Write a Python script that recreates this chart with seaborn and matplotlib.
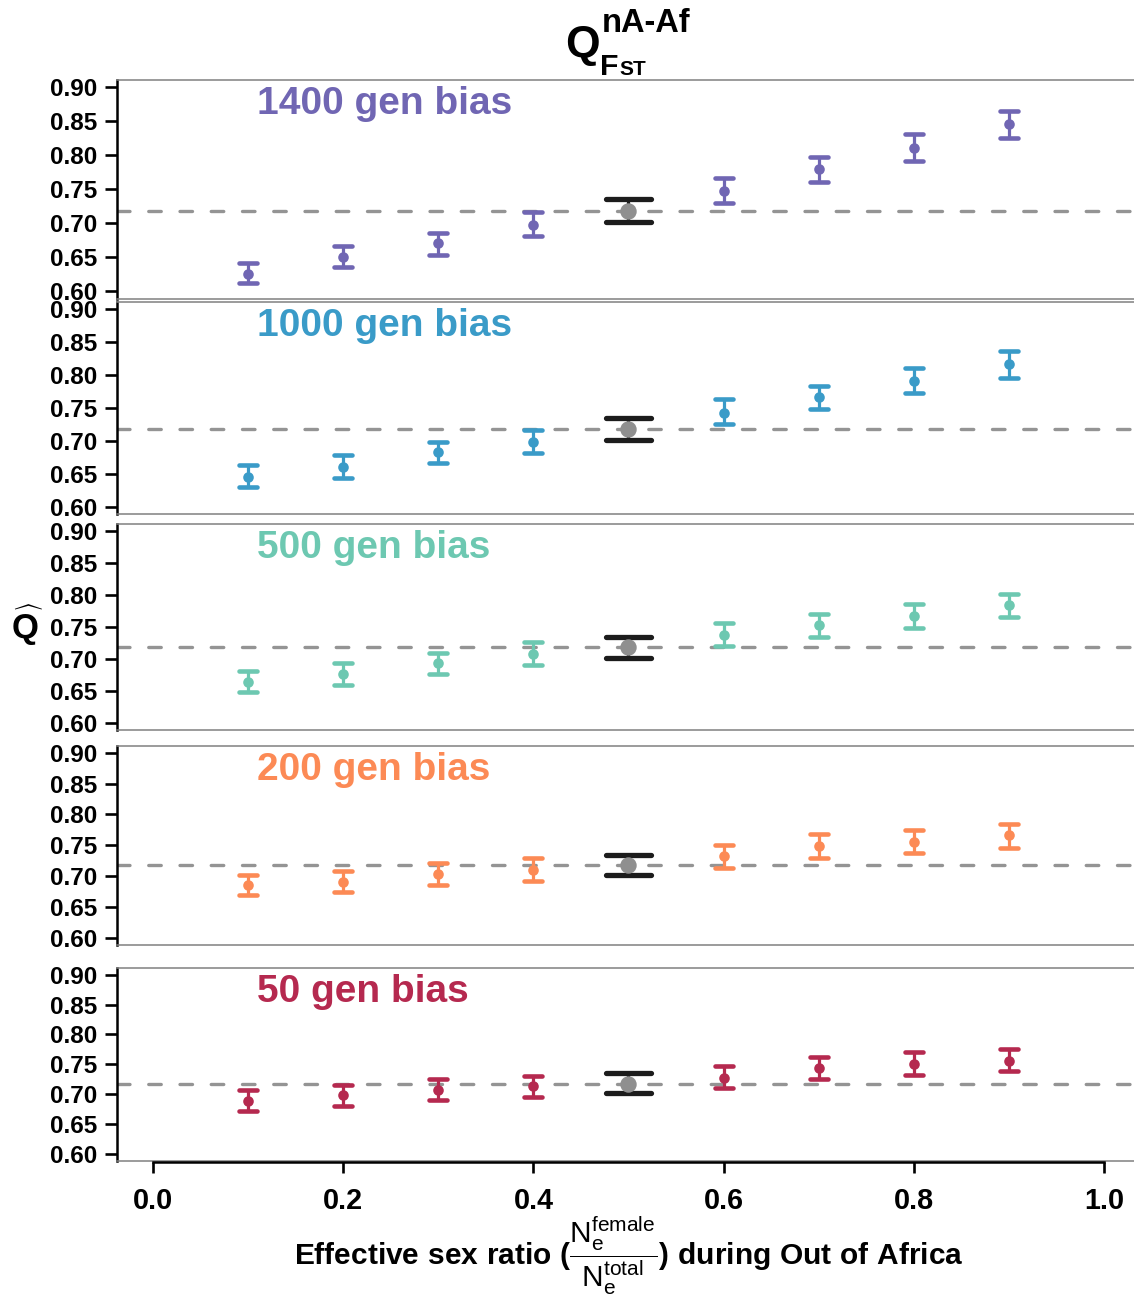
import numpy as np
import pandas as pd
import matplotlib
matplotlib.use("Agg")
import matplotlib.pyplot as plt
import seaborn as sns

# ---- data -------------------------------------------------------------
sex_ratio = [0.1, 0.2, 0.3, 0.4, 0.6, 0.7, 0.8, 0.9]
panel_labels = ["1400 gen bias", "1000 gen bias", "500 gen bias", "200 gen bias", "50 gen bias"]
panel_colors = ["#7066b3", "#3a9bc8", "#6dc8b1", "#fc8a55", "#b5294f"]

q_1400 = [0.626, 0.651, 0.671, 0.698, 0.747, 0.779, 0.810, 0.846]
lo_1400 = [0.612, 0.635, 0.653, 0.681, 0.729, 0.760, 0.791, 0.825]
hi_1400 = [0.642, 0.667, 0.686, 0.716, 0.766, 0.798, 0.831, 0.865]

q_1000 = [0.645, 0.660, 0.683, 0.699, 0.742, 0.767, 0.791, 0.817]
lo_1000 = [0.630, 0.644, 0.667, 0.682, 0.725, 0.749, 0.773, 0.796]
hi_1000 = [0.663, 0.678, 0.699, 0.717, 0.764, 0.784, 0.811, 0.836]

q_500 = [0.664, 0.677, 0.694, 0.708, 0.738, 0.753, 0.767, 0.784]
lo_500 = [0.648, 0.660, 0.676, 0.691, 0.720, 0.734, 0.749, 0.765]
hi_500 = [0.681, 0.694, 0.710, 0.726, 0.756, 0.771, 0.786, 0.801]

q_200 = [0.685, 0.690, 0.703, 0.710, 0.732, 0.749, 0.756, 0.766]
lo_200 = [0.669, 0.674, 0.686, 0.692, 0.714, 0.730, 0.737, 0.746]
hi_200 = [0.702, 0.708, 0.721, 0.729, 0.751, 0.768, 0.775, 0.784]

q_50 = [0.689, 0.698, 0.707, 0.713, 0.728, 0.744, 0.751, 0.756]
lo_50 = [0.672, 0.681, 0.690, 0.696, 0.710, 0.725, 0.733, 0.739]
hi_50 = [0.707, 0.716, 0.725, 0.731, 0.747, 0.763, 0.770, 0.775]

# unbiased reference (equal sex ratio)
ref_ratio = [0.5]
ref_q = [0.718]
ref_lo = [0.702]
ref_hi = [0.735]

y_ticks = [0.60, 0.65, 0.70, 0.75, 0.80, 0.85, 0.90]
x_ticks = [0.0, 0.2, 0.4, 0.6, 0.8, 1.0]

series = [
    (q_1400, lo_1400, hi_1400),
    (q_1000, lo_1000, hi_1000),
    (q_500, lo_500, hi_500),
    (q_200, lo_200, hi_200),
    (q_50, lo_50, hi_50),
]

# ---- style ------------------------------------------------------------
sns.set_style("ticks")
plt.rcParams["font.family"] = ["Liberation Sans", "DejaVu Sans"]
plt.rcParams["font.weight"] = "bold"
plt.rcParams["text.color"] = "black"
plt.rcParams["axes.labelcolor"] = "black"
plt.rcParams["xtick.color"] = "black"
plt.rcParams["ytick.color"] = "black"
plt.rcParams["mathtext.fontset"] = "custom"
plt.rcParams["mathtext.rm"] = "Liberation Sans:weight=normal"
plt.rcParams["mathtext.bf"] = "Liberation Sans:bold"
plt.rcParams["mathtext.it"] = "Liberation Sans:italic"
plt.rcParams["lines.scale_dashes"] = False

W, H = 1134, 1294
DPI = 100
fig = plt.figure(figsize=(W / DPI, H / DPI), dpi=DPI)

# panel geometry in pixels (top, bottom)
panel_px = [(79.7, 298.7), (302.0, 514.0), (524.0, 730.0), (746.0, 944.7), (968.0, 1160.7)]
left_px, right_px = 116.5, 1142.0
xlim = (-0.0384, 1.040)
ylim = (0.589, 0.911)

frame_gray = "#808080"
dash_gray = "#949494"


def rect(top, bottom):
    return [left_px / W, 1 - bottom / H, (right_px - left_px) / W, (bottom - top) / H]


cap_hw = 0.0095      # half-width of coloured caps (data units)
ref_cap_hw = 0.0235  # half-width of reference caps

axes = []
for (top, bottom), label, color, (q, lo, hi) in zip(panel_px, panel_labels, panel_colors, series):
    ax = fig.add_axes(rect(top, bottom))
    axes.append(ax)
    df = pd.DataFrame({"ratio": sex_ratio, "q": q, "lo": lo, "hi": hi})
    ref = pd.DataFrame({"ratio": ref_ratio, "q": ref_q, "lo": ref_lo, "hi": ref_hi})

    ax.axhline(ref_q[0], color=dash_gray, lw=2.4, dashes=(9, 13.5),
               dash_capstyle="round", zorder=1)

    # coloured error bars
    ax.vlines(df["ratio"], df["lo"], df["hi"], color=color, lw=2.3, zorder=2)
    caps = ax.hlines(pd.concat([df["lo"], df["hi"]]),
                     pd.concat([df["ratio"], df["ratio"]]) - cap_hw,
                     pd.concat([df["ratio"], df["ratio"]]) + cap_hw,
                     color=color, lw=3.3, zorder=2)
    caps.set_capstyle("round")
    sns.scatterplot(data=df, x="ratio", y="q", color=color, s=58, linewidth=0,
                    ax=ax, zorder=3)

    # reference bar
    ax.vlines(ref["ratio"], ref["lo"], ref["hi"], color="#1c1c1c", lw=2.3, zorder=2)
    rc = ax.hlines(pd.concat([ref["lo"], ref["hi"]]),
                   pd.concat([ref["ratio"], ref["ratio"]]) - ref_cap_hw,
                   pd.concat([ref["ratio"], ref["ratio"]]) + ref_cap_hw,
                   color="#1c1c1c", lw=3.8, zorder=2)
    rc.set_capstyle("round")
    sns.scatterplot(data=ref, x="ratio", y="q", color="#8f8f8f", s=140, linewidth=0,
                    ax=ax, zorder=4)

    ax.annotate(label, xy=(0.109, 1), xycoords=("data", "axes fraction"),
                xytext=(0, -24.6), textcoords="offset points",
                ha="left", va="baseline", fontsize=28, fontweight="bold", color=color)

    ax.set_xlim(*xlim)
    ax.set_ylim(*ylim)
    ax.set_yticks(y_ticks)
    ax.set_yticklabels([f"{t:.2f}" for t in y_ticks], fontsize=17.5, fontweight="bold")
    ax.set_xticks([])
    ax.set_xlabel("")
    ax.set_ylabel("")
    ax.tick_params(axis="y", length=8.4, width=1.9, pad=5.5, color="black")
    for side in ("top", "bottom", "right"):
        ax.spines[side].set_color(frame_gray)
        ax.spines[side].set_linewidth(1.1)
    ax.spines["right"].set_visible(False)
    ax.spines["left"].set_color("black")
    ax.spines["left"].set_linewidth(1.8)
    ax.set_facecolor("white")

# shared x axis below the last panel
ax_x = fig.add_axes([left_px / W, 1 - 1162.3 / H, (right_px - left_px) / W, 1e-6])
ax_x.set_xlim(*xlim)
ax_x.set_facecolor("none")
ax_x.set_yticks([])
for side in ("top", "left", "right"):
    ax_x.spines[side].set_visible(False)
ax_x.spines["bottom"].set_color("black")
ax_x.spines["bottom"].set_linewidth(1.8)
ax_x.spines["bottom"].set_bounds(0.0, 1.0)
ax_x.set_xticks(x_ticks)
ax_x.set_xticklabels([f"{t:.1f}" for t in x_ticks], fontsize=20.7, fontweight="bold")
ax_x.tick_params(axis="x", length=7.9, width=1.9, pad=10.0, color="black")


def fpx(x, y):
    return x / W, 1 - y / H


# title: Q with superscript nA-Af and subscript F_ST
fig.text(*fpx(565, 57), "Q", fontsize=32, fontweight="bold", ha="left", va="baseline")
fig.text(*fpx(601.5, 31.7), "nA-Af", fontsize=23.5, fontweight="bold", ha="left", va="baseline")
fig.text(*fpx(600.5, 74.7), "F", fontsize=21.8, fontweight="bold", ha="left", va="baseline")
fig.text(*fpx(619, 74.7), "ST", fontsize=15, fontweight="bold", ha="left", va="baseline")

# y-axis title
fig.text(*fpx(27, 626), r"$\widehat{\mathbf{Q}}$", fontsize=25, ha="center", va="center")

# x-axis title
fig.text(*fpx(629, 1265),
         r"$\mathbf{Effective\ sex\ ratio\ (}\dfrac{\mathrm{N_e^{female}}}{\mathrm{N_e^{total}}}"
         r"\mathbf{)\ during\ Out\ of\ Africa}$",
         fontsize=21.5, ha="center", va="baseline")

fig.savefig("out.png", dpi=DPI, facecolor="white")
